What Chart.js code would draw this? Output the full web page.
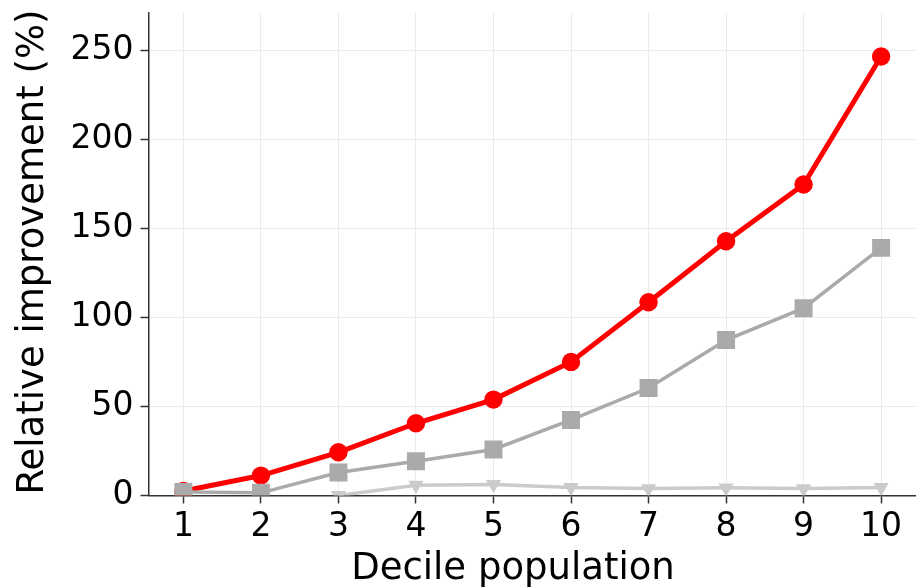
<!DOCTYPE html>
<html>
<head>
<meta charset="utf-8">
<script src="https://cdn.jsdelivr.net/npm/chart.js@4/dist/chart.umd.min.js"></script>
<style>
  html, body { margin: 0; padding: 0; background: #ffffff; }
  canvas { display: block; }
</style>
</head>
<body>
<canvas id="c" width="916" height="588"></canvas>
<script>
// Decile of the population (x) and relative improvement in % (y)
const deciles = [1, 2, 3, 4, 5, 6, 7, 8, 9, 10];
const seriesRed = [2.5, 11.2, 24.3, 40.6, 53.9, 75.1, 108.6, 142.9, 174.8, 246.8];
const seriesGray = [2.0, 1.5, 12.9, 19.2, 25.9, 42.5, 60.4, 87.4, 105.3, 139.2];
const seriesLight = [null, null, 0, 5.8, 6.2, 4.5, 3.9, 4.3, 3.9, 4.5];
const xTicks = [1, 2, 3, 4, 5, 6, 7, 8, 9, 10];
const yTicks = [0, 50, 100, 150, 200, 250];
const xTitle = 'Decile population';
const yTitle = 'Relative improvement (%)';

const toPoints = (vals) => deciles.map((d, i) => ({ x: d, y: vals[i] }));

const FONT = "'DejaVu Sans', 'Liberation Sans', sans-serif";
const PLOT_RIGHT = 916;

// keep the plot box fixed: no extra room reserved for overhanging tick labels
function fixBox(scale, prop, size) {
  scale[prop] = size;
  scale.paddingTop = 0;
  scale.paddingBottom = 0;
  scale.paddingLeft = 0;
  scale.paddingRight = 0;
}

// stretch the plot area to the right edge of the canvas
const fullWidth = {
  id: 'fullWidth',
  afterLayout(chart) {
    const ca = chart.chartArea;
    ca.right = PLOT_RIGHT;
    ca.width = ca.right - ca.left;
    const xs = chart.scales.x;
    xs.right = PLOT_RIGHT;
    xs.width = xs.right - xs.left;
    xs.configure();
  }
};

// axis titles
const axisTitles = {
  id: 'axisTitles',
  afterDraw(chart) {
    const ctx = chart.ctx;
    ctx.save();
    ctx.fillStyle = '#000000';
    ctx.font = "37px " + FONT;
    ctx.textAlign = 'center';
    ctx.textBaseline = 'alphabetic';
    ctx.fillText(xTitle, 513, 579);
    ctx.translate(43, 252);
    ctx.rotate(-Math.PI / 2);
    ctx.fillText(yTitle, 0, 0);
    ctx.restore();
  }
};

new Chart(document.getElementById('c'), {
  type: 'line',
  plugins: [fullWidth, axisTitles],
  data: {
    datasets: [
      {
        data: toPoints(seriesRed),
        borderColor: '#ff0000',
        backgroundColor: '#ff0000',
        borderWidth: 5,
        pointStyle: 'circle',
        pointRadius: 9.2,
        pointBorderWidth: 0,
        pointHoverRadius: 9.2,
        order: 3,
        clip: 0
      },
      {
        data: toPoints(seriesGray),
        borderColor: '#aaaaaa',
        backgroundColor: '#aaaaaa',
        borderWidth: 3.5,
        pointStyle: 'rect',
        pointRadius: 12.7,
        pointBorderWidth: 0,
        pointHoverRadius: 12.7,
        order: 2,
        clip: 0
      },
      {
        data: toPoints(seriesLight),
        borderColor: '#cbcbcb',
        backgroundColor: '#cbcbcb',
        borderWidth: 3.5,
        pointStyle: 'triangle',
        pointRotation: 180,
        pointRadius: 8.8,
        pointBorderWidth: 0,
        pointHoverRadius: 8.8,
        spanGaps: false,
        order: 1,
        clip: 0
      }
    ]
  },
  options: {
    responsive: false,
    animation: false,
    devicePixelRatio: 1,
    layout: { padding: { top: 10, right: 0, bottom: 0, left: 0 } },
    plugins: { legend: { display: false }, tooltip: { enabled: false } },
    elements: { line: { tension: 0 } },
    scales: {
      x: {
        type: 'linear',
        min: 0.55,
        max: 10.45,
        afterBuildTicks: (s) => { s.ticks = xTicks.map(v => ({ value: v })); },
        afterFit: (s) => fixBox(s, 'height', 92.5),
        grid: {
          color: '#ebebeb',
          lineWidth: 1,
          drawTicks: true,
          tickLength: 8,
          tickColor: '#333333',
          tickWidth: 1.5
        },
        border: { color: '#333333', width: 1.5 },
        ticks: {
          color: '#000000',
          padding: 4,
          maxRotation: 0,
          font: { family: FONT, size: 33 },
          callback: (v) => String(v)
        },
        title: { display: false }
      },
      y: {
        type: 'linear',
        min: 0,
        max: 271.4,
        afterBuildTicks: (s) => { s.ticks = yTicks.map(v => ({ value: v })); },
        afterFit: (s) => fixBox(s, 'width', 148.5),
        grid: {
          color: '#ebebeb',
          lineWidth: 1,
          drawTicks: true,
          tickLength: 8,
          tickColor: '#333333',
          tickWidth: 1.5
        },
        border: { color: '#333333', width: 1.5 },
        ticks: {
          color: '#000000',
          padding: 7,
          font: { family: FONT, size: 33 },
          callback: (v) => String(v)
        },
        title: { display: false }
      }
    }
  }
});
</script>
</body>
</html>
